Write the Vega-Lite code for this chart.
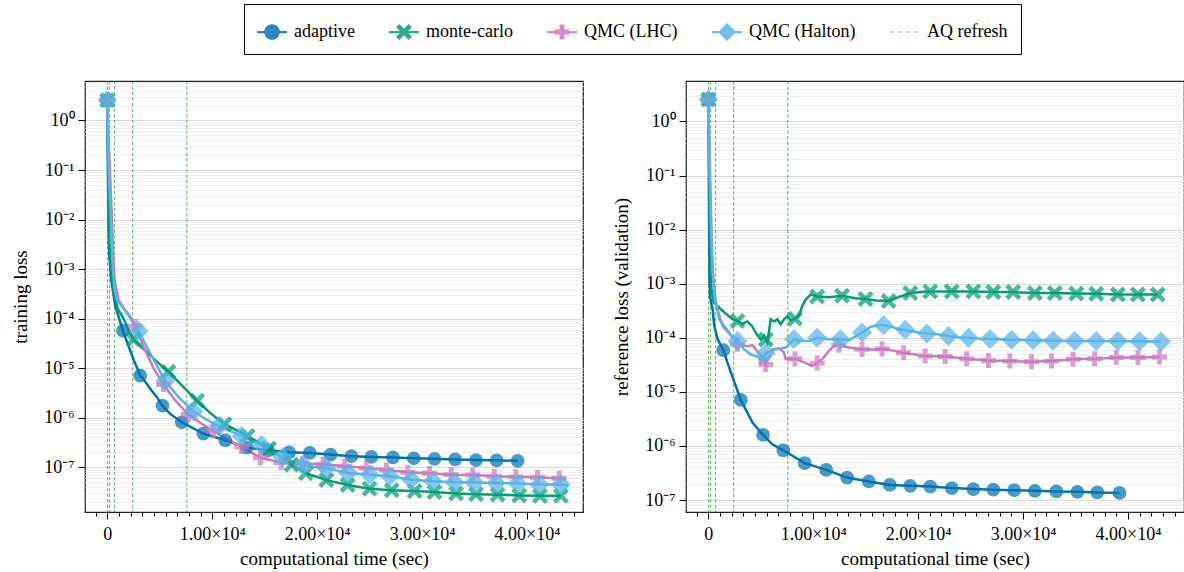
{
"$schema": "https://vega.github.io/schema/vega-lite/v6.json",
"autosize": {"type": "none"},
"padding": {"left": 85, "top": 81, "right": 1099, "bottom": 491},
"background": "white",
"config": {
  "font": "Liberation Serif",
  "view": {"stroke": "#222", "strokeWidth": 1.25},
  "legend": {"labelFont": "Liberation Serif", "titleFont": "Liberation Serif"},
  "axis": {"labelFont": "Liberation Serif", "titleFont": "Liberation Serif", "labelFontSize": 18, "titleFontSize": 19, "labelColor": "#000", "titleColor": "#000", "titleFontWeight": "normal", "tickColor": "#000", "tickWidth": 1, "domain": false}
},
"datasets": {
  "aq": [{"t": 30}, {"t": 225}, {"t": 700}, {"t": 2420}, {"t": 7580}],
  "tr": [
    {"s":"adaptive","t":0,"v":2.55},{"s":"adaptive","t":40,"v":0.3},{"s":"adaptive","t":100,"v":0.01},{"s":"adaptive","t":180,"v":0.002},{"s":"adaptive","t":290,"v":0.001},{"s":"adaptive","t":380,"v":0.0006},{"s":"adaptive","t":760,"v":0.00018},{"s":"adaptive","t":1490,"v":5.7e-5},{"s":"adaptive","t":2500,"v":1.5e-5},{"s":"adaptive","t":3140,"v":7.1e-6},{"s":"adaptive","t":3450,"v":6.0e-6},{"s":"adaptive","t":4200,"v":3.6e-6},{"s":"adaptive","t":4720,"v":2.6e-6},{"s":"adaptive","t":5260,"v":1.75e-6},{"s":"adaptive","t":5990,"v":1.2e-6},{"s":"adaptive","t":7100,"v":8.1e-7},{"s":"adaptive","t":9150,"v":4.8e-7},{"s":"adaptive","t":11250,"v":3.5e-7},{"s":"adaptive","t":13280,"v":2.5e-7},{"s":"adaptive","t":15330,"v":2.2e-7},{"s":"adaptive","t":17330,"v":2.0e-7},{"s":"adaptive","t":19300,"v":1.95e-7},{"s":"adaptive","t":21270,"v":1.8e-7},{"s":"adaptive","t":23260,"v":1.67e-7},{"s":"adaptive","t":25160,"v":1.62e-7},{"s":"adaptive","t":27220,"v":1.58e-7},{"s":"adaptive","t":29210,"v":1.52e-7},{"s":"adaptive","t":31180,"v":1.48e-7},{"s":"adaptive","t":33150,"v":1.44e-7},{"s":"adaptive","t":35140,"v":1.4e-7},{"s":"adaptive","t":37100,"v":1.38e-7},{"s":"adaptive","t":39100,"v":1.35e-7},
    {"s":"monte-carlo","t":0,"v":2.55},{"s":"monte-carlo","t":60,"v":0.3},{"s":"monte-carlo","t":120,"v":0.02},{"s":"monte-carlo","t":220,"v":0.003},{"s":"monte-carlo","t":350,"v":0.001},{"s":"monte-carlo","t":600,"v":0.00035},{"s":"monte-carlo","t":1000,"v":0.00016},{"s":"monte-carlo","t":1550,"v":0.0001},{"s":"monte-carlo","t":2500,"v":3.8e-5},{"s":"monte-carlo","t":3600,"v":2.3e-5},{"s":"monte-carlo","t":4500,"v":1.5e-5},{"s":"monte-carlo","t":5200,"v":1.1e-5},{"s":"monte-carlo","t":5830,"v":8.5e-6},{"s":"monte-carlo","t":7200,"v":4.3e-6},{"s":"monte-carlo","t":8560,"v":2.2e-6},{"s":"monte-carlo","t":9900,"v":1.2e-6},{"s":"monte-carlo","t":11170,"v":7.4e-7},{"s":"monte-carlo","t":13360,"v":4.3e-7},{"s":"monte-carlo","t":15400,"v":2.4e-7},{"s":"monte-carlo","t":17560,"v":1.13e-7},{"s":"monte-carlo","t":18920,"v":7.6e-8},{"s":"monte-carlo","t":20880,"v":5.5e-8},{"s":"monte-carlo","t":22900,"v":4.4e-8},{"s":"monte-carlo","t":25000,"v":3.7e-8},{"s":"monte-carlo","t":27100,"v":3.45e-8},{"s":"monte-carlo","t":29280,"v":3.3e-8},{"s":"monte-carlo","t":31180,"v":3.15e-8},{"s":"monte-carlo","t":33240,"v":2.95e-8},{"s":"monte-carlo","t":35140,"v":2.85e-8},{"s":"monte-carlo","t":37200,"v":2.8e-8},{"s":"monte-carlo","t":39260,"v":2.7e-8},{"s":"monte-carlo","t":41230,"v":2.65e-8},{"s":"monte-carlo","t":43220,"v":2.65e-8},
    {"s":"QMC (LHC)","t":0,"v":2.55},{"s":"QMC (LHC)","t":100,"v":0.5},{"s":"QMC (LHC)","t":250,"v":0.1},{"s":"QMC (LHC)","t":450,"v":0.01},{"s":"QMC (LHC)","t":550,"v":0.002},{"s":"QMC (LHC)","t":700,"v":0.0006},{"s":"QMC (LHC)","t":1075,"v":0.00024},{"s":"QMC (LHC)","t":1700,"v":0.00015},{"s":"QMC (LHC)","t":2200,"v":0.00011},{"s":"QMC (LHC)","t":2660,"v":7.0e-5},{"s":"QMC (LHC)","t":3500,"v":2.6e-5},{"s":"QMC (LHC)","t":4400,"v":1.0e-5},{"s":"QMC (LHC)","t":5350,"v":4.7e-6},{"s":"QMC (LHC)","t":6500,"v":2.2e-6},{"s":"QMC (LHC)","t":7730,"v":1.16e-6},{"s":"QMC (LHC)","t":8900,"v":7.8e-7},{"s":"QMC (LHC)","t":10100,"v":5.4e-7},{"s":"QMC (LHC)","t":11400,"v":3.7e-7},{"s":"QMC (LHC)","t":12800,"v":2.6e-7},{"s":"QMC (LHC)","t":14600,"v":1.55e-7},{"s":"QMC (LHC)","t":16560,"v":1.25e-7},{"s":"QMC (LHC)","t":18600,"v":1.2e-7},{"s":"QMC (LHC)","t":20560,"v":1.15e-7},{"s":"QMC (LHC)","t":22620,"v":1.05e-7},{"s":"QMC (LHC)","t":24690,"v":9.7e-8},{"s":"QMC (LHC)","t":26600,"v":8.8e-8},{"s":"QMC (LHC)","t":28640,"v":7.9e-8},{"s":"QMC (LHC)","t":30700,"v":7.6e-8},{"s":"QMC (LHC)","t":32770,"v":7.1e-8},{"s":"QMC (LHC)","t":34820,"v":7.0e-8},{"s":"QMC (LHC)","t":36880,"v":6.6e-8},{"s":"QMC (LHC)","t":38940,"v":6.4e-8},{"s":"QMC (LHC)","t":41000,"v":6.3e-8},{"s":"QMC (LHC)","t":43060,"v":6.0e-8},{"s":"QMC (LHC)","t":43700,"v":5.7e-8},
    {"s":"QMC (Halton)","t":0,"v":2.55},{"s":"QMC (Halton)","t":80,"v":0.3},{"s":"QMC (Halton)","t":200,"v":0.05},{"s":"QMC (Halton)","t":400,"v":0.005},{"s":"QMC (Halton)","t":540,"v":0.001},{"s":"QMC (Halton)","t":700,"v":0.0004},{"s":"QMC (Halton)","t":920,"v":0.00024},{"s":"QMC (Halton)","t":1870,"v":0.00013},{"s":"QMC (Halton)","t":2980,"v":5.6e-5},{"s":"QMC (Halton)","t":4200,"v":1.8e-5},{"s":"QMC (Halton)","t":5510,"v":5.5e-6},{"s":"QMC (Halton)","t":6800,"v":2.6e-6},{"s":"QMC (Halton)","t":8200,"v":1.35e-6},{"s":"QMC (Halton)","t":9400,"v":9.3e-7},{"s":"QMC (Halton)","t":10650,"v":6.8e-7},{"s":"QMC (Halton)","t":12800,"v":4.3e-7},{"s":"QMC (Halton)","t":14700,"v":2.8e-7},{"s":"QMC (Halton)","t":16700,"v":1.6e-7},{"s":"QMC (Halton)","t":18660,"v":1.08e-7},{"s":"QMC (Halton)","t":20880,"v":9.5e-8},{"s":"QMC (Halton)","t":22940,"v":7.7e-8},{"s":"QMC (Halton)","t":25000,"v":7.1e-8},{"s":"QMC (Halton)","t":26900,"v":6.6e-8},{"s":"QMC (Halton)","t":28960,"v":5.6e-8},{"s":"QMC (Halton)","t":31020,"v":5.2e-8},{"s":"QMC (Halton)","t":33080,"v":5.0e-8},{"s":"QMC (Halton)","t":34980,"v":4.9e-8},{"s":"QMC (Halton)","t":37040,"v":4.8e-8},{"s":"QMC (Halton)","t":39100,"v":4.7e-8},{"s":"QMC (Halton)","t":41160,"v":4.5e-8},{"s":"QMC (Halton)","t":43220,"v":4.5e-8},{"s":"QMC (Halton)","t":43900,"v":4.3e-8}
  ],
  "trm": [
    {"s":"adaptive","t":0,"v":2.55},{"s":"adaptive","t":1490,"v":5.7e-5},{"s":"adaptive","t":3140,"v":7.1e-6},{"s":"adaptive","t":5260,"v":1.75e-6},{"s":"adaptive","t":7100,"v":8.1e-7},{"s":"adaptive","t":9150,"v":4.8e-7},{"s":"adaptive","t":11250,"v":3.5e-7},{"s":"adaptive","t":13280,"v":2.5e-7},{"s":"adaptive","t":15330,"v":2.2e-7},{"s":"adaptive","t":17330,"v":2.0e-7},{"s":"adaptive","t":19300,"v":1.95e-7},{"s":"adaptive","t":21270,"v":1.8e-7},{"s":"adaptive","t":23260,"v":1.67e-7},{"s":"adaptive","t":25160,"v":1.62e-7},{"s":"adaptive","t":27220,"v":1.58e-7},{"s":"adaptive","t":29210,"v":1.52e-7},{"s":"adaptive","t":31180,"v":1.48e-7},{"s":"adaptive","t":33150,"v":1.44e-7},{"s":"adaptive","t":35140,"v":1.4e-7},{"s":"adaptive","t":37100,"v":1.38e-7},{"s":"adaptive","t":39100,"v":1.35e-7},
    {"s":"monte-carlo","t":0,"v":2.55},{"s":"monte-carlo","t":2500,"v":3.8e-5},{"s":"monte-carlo","t":5830,"v":8.5e-6},{"s":"monte-carlo","t":8560,"v":2.2e-6},{"s":"monte-carlo","t":11170,"v":7.4e-7},{"s":"monte-carlo","t":13360,"v":4.3e-7},{"s":"monte-carlo","t":15400,"v":2.4e-7},{"s":"monte-carlo","t":17560,"v":1.13e-7},{"s":"monte-carlo","t":18920,"v":7.6e-8},{"s":"monte-carlo","t":20880,"v":5.5e-8},{"s":"monte-carlo","t":22900,"v":4.4e-8},{"s":"monte-carlo","t":25000,"v":3.7e-8},{"s":"monte-carlo","t":27100,"v":3.45e-8},{"s":"monte-carlo","t":29280,"v":3.3e-8},{"s":"monte-carlo","t":31180,"v":3.15e-8},{"s":"monte-carlo","t":33240,"v":2.95e-8},{"s":"monte-carlo","t":35140,"v":2.85e-8},{"s":"monte-carlo","t":37200,"v":2.8e-8},{"s":"monte-carlo","t":39260,"v":2.7e-8},{"s":"monte-carlo","t":41230,"v":2.65e-8},{"s":"monte-carlo","t":43220,"v":2.65e-8},
    {"s":"QMC (LHC)","t":0,"v":2.55},{"s":"QMC (LHC)","t":2660,"v":7.0e-5},{"s":"QMC (LHC)","t":5350,"v":4.7e-6},{"s":"QMC (LHC)","t":7730,"v":1.16e-6},{"s":"QMC (LHC)","t":10100,"v":5.4e-7},{"s":"QMC (LHC)","t":12800,"v":2.6e-7},{"s":"QMC (LHC)","t":14600,"v":1.55e-7},{"s":"QMC (LHC)","t":16560,"v":1.25e-7},{"s":"QMC (LHC)","t":18600,"v":1.2e-7},{"s":"QMC (LHC)","t":20560,"v":1.15e-7},{"s":"QMC (LHC)","t":22620,"v":1.05e-7},{"s":"QMC (LHC)","t":24690,"v":9.7e-8},{"s":"QMC (LHC)","t":26600,"v":8.8e-8},{"s":"QMC (LHC)","t":28640,"v":7.9e-8},{"s":"QMC (LHC)","t":30700,"v":7.6e-8},{"s":"QMC (LHC)","t":32770,"v":7.1e-8},{"s":"QMC (LHC)","t":34820,"v":7.0e-8},{"s":"QMC (LHC)","t":36880,"v":6.6e-8},{"s":"QMC (LHC)","t":38940,"v":6.4e-8},{"s":"QMC (LHC)","t":41000,"v":6.3e-8},{"s":"QMC (LHC)","t":43060,"v":6.0e-8},
    {"s":"QMC (Halton)","t":0,"v":2.55},{"s":"QMC (Halton)","t":2980,"v":5.6e-5},{"s":"QMC (Halton)","t":5510,"v":5.5e-6},{"s":"QMC (Halton)","t":8200,"v":1.35e-6},{"s":"QMC (Halton)","t":10650,"v":6.8e-7},{"s":"QMC (Halton)","t":12800,"v":4.3e-7},{"s":"QMC (Halton)","t":14700,"v":2.8e-7},{"s":"QMC (Halton)","t":16700,"v":1.6e-7},{"s":"QMC (Halton)","t":18660,"v":1.08e-7},{"s":"QMC (Halton)","t":20880,"v":9.5e-8},{"s":"QMC (Halton)","t":22940,"v":7.7e-8},{"s":"QMC (Halton)","t":25000,"v":7.1e-8},{"s":"QMC (Halton)","t":26900,"v":6.6e-8},{"s":"QMC (Halton)","t":28960,"v":5.6e-8},{"s":"QMC (Halton)","t":31020,"v":5.2e-8},{"s":"QMC (Halton)","t":33080,"v":5.0e-8},{"s":"QMC (Halton)","t":34980,"v":4.9e-8},{"s":"QMC (Halton)","t":37040,"v":4.8e-8},{"s":"QMC (Halton)","t":39100,"v":4.7e-8},{"s":"QMC (Halton)","t":41160,"v":4.5e-8},{"s":"QMC (Halton)","t":43220,"v":4.5e-8}
  ],
  "va": [
    {"s":"adaptive","t":0,"v":2.55},{"s":"adaptive","t":40,"v":0.3},{"s":"adaptive","t":80,"v":0.01},{"s":"adaptive","t":110,"v":0.0015},{"s":"adaptive","t":160,"v":0.0006},{"s":"adaptive","t":300,"v":0.00042},{"s":"adaptive","t":410,"v":0.00034},{"s":"adaptive","t":570,"v":0.000165},{"s":"adaptive","t":880,"v":9.6e-5},{"s":"adaptive","t":1430,"v":5.9e-5},{"s":"adaptive","t":2150,"v":2.3e-5},{"s":"adaptive","t":3100,"v":7.1e-6},{"s":"adaptive","t":4210,"v":2.7e-6},{"s":"adaptive","t":5220,"v":1.6e-6},{"s":"adaptive","t":6110,"v":1.07e-6},{"s":"adaptive","t":7150,"v":8.3e-7},{"s":"adaptive","t":9180,"v":4.8e-7},{"s":"adaptive","t":11240,"v":3.6e-7},{"s":"adaptive","t":13230,"v":2.6e-7},{"s":"adaptive","t":15290,"v":2.2e-7},{"s":"adaptive","t":17300,"v":1.9e-7},{"s":"adaptive","t":19250,"v":1.83e-7},{"s":"adaptive","t":21150,"v":1.77e-7},{"s":"adaptive","t":23200,"v":1.66e-7},{"s":"adaptive","t":25260,"v":1.59e-7},{"s":"adaptive","t":27160,"v":1.55e-7},{"s":"adaptive","t":29150,"v":1.52e-7},{"s":"adaptive","t":31120,"v":1.48e-7},{"s":"adaptive","t":33170,"v":1.44e-7},{"s":"adaptive","t":35170,"v":1.42e-7},{"s":"adaptive","t":37070,"v":1.38e-7},{"s":"adaptive","t":39190,"v":1.35e-7},
    {"s":"monte-carlo","t":0,"v":2.55},{"s":"monte-carlo","t":60,"v":0.3},{"s":"monte-carlo","t":120,"v":0.02},{"s":"monte-carlo","t":200,"v":0.003},{"s":"monte-carlo","t":300,"v":0.0008},{"s":"monte-carlo","t":500,"v":0.00045},{"s":"monte-carlo","t":880,"v":0.00039},{"s":"monte-carlo","t":1160,"v":0.00034},{"s":"monte-carlo","t":2300,"v":0.00022},{"s":"monte-carlo","t":2780,"v":0.000204},{"s":"monte-carlo","t":3260,"v":0.00018},{"s":"monte-carlo","t":3730,"v":0.0002},{"s":"monte-carlo","t":4210,"v":0.00016},{"s":"monte-carlo","t":4690,"v":0.00011},{"s":"monte-carlo","t":5000,"v":9.3e-5},{"s":"monte-carlo","t":5320,"v":0.00011},{"s":"monte-carlo","t":5630,"v":8.1e-5},{"s":"monte-carlo","t":5950,"v":0.00022},{"s":"monte-carlo","t":6270,"v":0.0002},{"s":"monte-carlo","t":6580,"v":0.00022},{"s":"monte-carlo","t":6900,"v":0.000178},{"s":"monte-carlo","t":7220,"v":0.00022},{"s":"monte-carlo","t":7530,"v":0.00025},{"s":"monte-carlo","t":7850,"v":0.00021},{"s":"monte-carlo","t":8260,"v":0.000225},{"s":"monte-carlo","t":8640,"v":0.00025},{"s":"monte-carlo","t":8960,"v":0.00039},{"s":"monte-carlo","t":9280,"v":0.00051},{"s":"monte-carlo","t":9750,"v":0.00063},{"s":"monte-carlo","t":10380,"v":0.00058},{"s":"monte-carlo","t":11500,"v":0.00056},{"s":"monte-carlo","t":12750,"v":0.0006},{"s":"monte-carlo","t":14000,"v":0.00054},{"s":"monte-carlo","t":14980,"v":0.00052},{"s":"monte-carlo","t":16000,"v":0.00049},{"s":"monte-carlo","t":17190,"v":0.00048},{"s":"monte-carlo","t":18300,"v":0.00058},{"s":"monte-carlo","t":19250,"v":0.00067},{"s":"monte-carlo","t":20500,"v":0.00071},{"s":"monte-carlo","t":21150,"v":0.00072},{"s":"monte-carlo","t":23200,"v":0.00072},{"s":"monte-carlo","t":25260,"v":0.00072},{"s":"monte-carlo","t":27160,"v":0.0007},{"s":"monte-carlo","t":29060,"v":0.0007},{"s":"monte-carlo","t":31120,"v":0.00067},{"s":"monte-carlo","t":33020,"v":0.00067},{"s":"monte-carlo","t":35070,"v":0.00066},{"s":"monte-carlo","t":36970,"v":0.00065},{"s":"monte-carlo","t":39030,"v":0.00063},{"s":"monte-carlo","t":40930,"v":0.00063},{"s":"monte-carlo","t":42830,"v":0.00063},
    {"s":"QMC (LHC)","t":0,"v":2.55},{"s":"QMC (LHC)","t":80,"v":0.5},{"s":"QMC (LHC)","t":180,"v":0.08},{"s":"QMC (LHC)","t":300,"v":0.01},{"s":"QMC (LHC)","t":450,"v":0.0015},{"s":"QMC (LHC)","t":650,"v":0.0005},{"s":"QMC (LHC)","t":880,"v":0.00033},{"s":"QMC (LHC)","t":1360,"v":0.000165},{"s":"QMC (LHC)","t":2000,"v":0.00012},{"s":"QMC (LHC)","t":2780,"v":7.6e-5},{"s":"QMC (LHC)","t":3730,"v":7.0e-5},{"s":"QMC (LHC)","t":4210,"v":7.3e-5},{"s":"QMC (LHC)","t":4530,"v":6.1e-5},{"s":"QMC (LHC)","t":5160,"v":4.3e-5},{"s":"QMC (LHC)","t":5480,"v":3.2e-5},{"s":"QMC (LHC)","t":5800,"v":4.5e-5},{"s":"QMC (LHC)","t":6110,"v":6.1e-5},{"s":"QMC (LHC)","t":6740,"v":6.4e-5},{"s":"QMC (LHC)","t":7220,"v":5.3e-5},{"s":"QMC (LHC)","t":7380,"v":4.0e-5},{"s":"QMC (LHC)","t":8260,"v":4.1e-5},{"s":"QMC (LHC)","t":9120,"v":3.5e-5},{"s":"QMC (LHC)","t":9900,"v":3.0e-5},{"s":"QMC (LHC)","t":10380,"v":3.4e-5},{"s":"QMC (LHC)","t":10850,"v":4.0e-5},{"s":"QMC (LHC)","t":11490,"v":5.7e-5},{"s":"QMC (LHC)","t":12130,"v":7.6e-5},{"s":"QMC (LHC)","t":12440,"v":7.3e-5},{"s":"QMC (LHC)","t":13390,"v":6.6e-5},{"s":"QMC (LHC)","t":14650,"v":6.1e-5},{"s":"QMC (LHC)","t":15930,"v":6.1e-5},{"s":"QMC (LHC)","t":16560,"v":6.2e-5},{"s":"QMC (LHC)","t":17190,"v":6.0e-5},{"s":"QMC (LHC)","t":18610,"v":5.3e-5},{"s":"QMC (LHC)","t":20670,"v":4.6e-5},{"s":"QMC (LHC)","t":22570,"v":4.5e-5},{"s":"QMC (LHC)","t":24630,"v":4.1e-5},{"s":"QMC (LHC)","t":26690,"v":3.8e-5},{"s":"QMC (LHC)","t":28740,"v":3.7e-5},{"s":"QMC (LHC)","t":30800,"v":3.6e-5},{"s":"QMC (LHC)","t":32700,"v":3.7e-5},{"s":"QMC (LHC)","t":34760,"v":4.0e-5},{"s":"QMC (LHC)","t":36820,"v":4.1e-5},{"s":"QMC (LHC)","t":38880,"v":4.3e-5},{"s":"QMC (LHC)","t":40940,"v":4.3e-5},{"s":"QMC (LHC)","t":43000,"v":4.4e-5},
    {"s":"QMC (Halton)","t":0,"v":2.55},{"s":"QMC (Halton)","t":70,"v":0.5},{"s":"QMC (Halton)","t":150,"v":0.08},{"s":"QMC (Halton)","t":270,"v":0.01},{"s":"QMC (Halton)","t":420,"v":0.0015},{"s":"QMC (Halton)","t":730,"v":0.00045},{"s":"QMC (Halton)","t":1045,"v":0.00022},{"s":"QMC (Halton)","t":1520,"v":0.000165},{"s":"QMC (Halton)","t":2200,"v":0.00011},{"s":"QMC (Halton)","t":2780,"v":8.7e-5},{"s":"QMC (Halton)","t":3420,"v":6.1e-5},{"s":"QMC (Halton)","t":4060,"v":4.9e-5},{"s":"QMC (Halton)","t":4530,"v":4.6e-5},{"s":"QMC (Halton)","t":4850,"v":4.3e-5},{"s":"QMC (Halton)","t":5000,"v":3.5e-5},{"s":"QMC (Halton)","t":5480,"v":5.2e-5},{"s":"QMC (Halton)","t":6430,"v":6.1e-5},{"s":"QMC (Halton)","t":7380,"v":6.6e-5},{"s":"QMC (Halton)","t":8170,"v":9.4e-5},{"s":"QMC (Halton)","t":8640,"v":8.7e-5},{"s":"QMC (Halton)","t":9590,"v":8.7e-5},{"s":"QMC (Halton)","t":10380,"v":0.0001},{"s":"QMC (Halton)","t":11490,"v":9.4e-5},{"s":"QMC (Halton)","t":12600,"v":9.4e-5},{"s":"QMC (Halton)","t":13390,"v":9.0e-5},{"s":"QMC (Halton)","t":14000,"v":0.000105},{"s":"QMC (Halton)","t":14650,"v":0.000125},{"s":"QMC (Halton)","t":15500,"v":0.00016},{"s":"QMC (Halton)","t":16240,"v":0.00017},{"s":"QMC (Halton)","t":16700,"v":0.00017},{"s":"QMC (Halton)","t":17190,"v":0.000165},{"s":"QMC (Halton)","t":18140,"v":0.000145},{"s":"QMC (Halton)","t":20040,"v":0.000125},{"s":"QMC (Halton)","t":21940,"v":0.000115},{"s":"QMC (Halton)","t":23840,"v":0.000102},{"s":"QMC (Halton)","t":25740,"v":9.7e-5},{"s":"QMC (Halton)","t":27640,"v":9.4e-5},{"s":"QMC (Halton)","t":29530,"v":9.1e-5},{"s":"QMC (Halton)","t":31430,"v":8.9e-5},{"s":"QMC (Halton)","t":33330,"v":8.8e-5},{"s":"QMC (Halton)","t":35230,"v":8.7e-5},{"s":"QMC (Halton)","t":37100,"v":8.7e-5},{"s":"QMC (Halton)","t":39000,"v":8.7e-5},{"s":"QMC (Halton)","t":41000,"v":8.6e-5},{"s":"QMC (Halton)","t":43140,"v":8.5e-5}
  ],
  "vam": [
    {"s":"adaptive","t":0,"v":2.55},{"s":"adaptive","t":1430,"v":5.9e-5},{"s":"adaptive","t":3100,"v":7.1e-6},{"s":"adaptive","t":5220,"v":1.6e-6},{"s":"adaptive","t":7150,"v":8.3e-7},{"s":"adaptive","t":9180,"v":4.8e-7},{"s":"adaptive","t":11240,"v":3.6e-7},{"s":"adaptive","t":13230,"v":2.6e-7},{"s":"adaptive","t":15290,"v":2.2e-7},{"s":"adaptive","t":17300,"v":1.9e-7},{"s":"adaptive","t":19250,"v":1.83e-7},{"s":"adaptive","t":21150,"v":1.77e-7},{"s":"adaptive","t":23200,"v":1.66e-7},{"s":"adaptive","t":25260,"v":1.59e-7},{"s":"adaptive","t":27160,"v":1.55e-7},{"s":"adaptive","t":29150,"v":1.52e-7},{"s":"adaptive","t":31120,"v":1.48e-7},{"s":"adaptive","t":33170,"v":1.44e-7},{"s":"adaptive","t":35170,"v":1.42e-7},{"s":"adaptive","t":37070,"v":1.38e-7},{"s":"adaptive","t":39190,"v":1.35e-7},
    {"s":"monte-carlo","t":0,"v":2.55},{"s":"monte-carlo","t":2780,"v":0.000204},{"s":"monte-carlo","t":5480,"v":9.3e-5},{"s":"monte-carlo","t":8260,"v":0.000225},{"s":"monte-carlo","t":10380,"v":0.00058},{"s":"monte-carlo","t":12750,"v":0.0006},{"s":"monte-carlo","t":14980,"v":0.00052},{"s":"monte-carlo","t":17190,"v":0.00048},{"s":"monte-carlo","t":19250,"v":0.00067},{"s":"monte-carlo","t":21150,"v":0.00072},{"s":"monte-carlo","t":23200,"v":0.00072},{"s":"monte-carlo","t":25260,"v":0.00072},{"s":"monte-carlo","t":27160,"v":0.0007},{"s":"monte-carlo","t":29060,"v":0.0007},{"s":"monte-carlo","t":31120,"v":0.00067},{"s":"monte-carlo","t":33020,"v":0.00067},{"s":"monte-carlo","t":35070,"v":0.00066},{"s":"monte-carlo","t":36970,"v":0.00065},{"s":"monte-carlo","t":39030,"v":0.00063},{"s":"monte-carlo","t":40930,"v":0.00063},{"s":"monte-carlo","t":42830,"v":0.00063},
    {"s":"QMC (LHC)","t":0,"v":2.55},{"s":"QMC (LHC)","t":2780,"v":7.6e-5},{"s":"QMC (LHC)","t":5480,"v":3.2e-5},{"s":"QMC (LHC)","t":8260,"v":4.1e-5},{"s":"QMC (LHC)","t":10380,"v":3.4e-5},{"s":"QMC (LHC)","t":12440,"v":7.3e-5},{"s":"QMC (LHC)","t":14650,"v":6.1e-5},{"s":"QMC (LHC)","t":16560,"v":6.2e-5},{"s":"QMC (LHC)","t":18610,"v":5.3e-5},{"s":"QMC (LHC)","t":20670,"v":4.6e-5},{"s":"QMC (LHC)","t":22570,"v":4.5e-5},{"s":"QMC (LHC)","t":24630,"v":4.1e-5},{"s":"QMC (LHC)","t":26690,"v":3.8e-5},{"s":"QMC (LHC)","t":28740,"v":3.7e-5},{"s":"QMC (LHC)","t":30800,"v":3.6e-5},{"s":"QMC (LHC)","t":32700,"v":3.7e-5},{"s":"QMC (LHC)","t":34760,"v":4.0e-5},{"s":"QMC (LHC)","t":36820,"v":4.1e-5},{"s":"QMC (LHC)","t":38880,"v":4.3e-5},{"s":"QMC (LHC)","t":40940,"v":4.3e-5},{"s":"QMC (LHC)","t":43000,"v":4.4e-5},
    {"s":"QMC (Halton)","t":0,"v":2.55},{"s":"QMC (Halton)","t":2780,"v":8.7e-5},{"s":"QMC (Halton)","t":5480,"v":5.2e-5},{"s":"QMC (Halton)","t":8170,"v":9.4e-5},{"s":"QMC (Halton)","t":10380,"v":0.0001},{"s":"QMC (Halton)","t":12600,"v":9.4e-5},{"s":"QMC (Halton)","t":14650,"v":0.000125},{"s":"QMC (Halton)","t":16700,"v":0.00017},{"s":"QMC (Halton)","t":18770,"v":0.00014},{"s":"QMC (Halton)","t":20830,"v":0.00012},{"s":"QMC (Halton)","t":22890,"v":0.000108},{"s":"QMC (Halton)","t":24790,"v":0.0001},{"s":"QMC (Halton)","t":26850,"v":9.5e-5},{"s":"QMC (Halton)","t":28900,"v":9.2e-5},{"s":"QMC (Halton)","t":30960,"v":9.0e-5},{"s":"QMC (Halton)","t":32860,"v":8.8e-5},{"s":"QMC (Halton)","t":34920,"v":8.7e-5},{"s":"QMC (Halton)","t":36970,"v":8.7e-5},{"s":"QMC (Halton)","t":39030,"v":8.7e-5},{"s":"QMC (Halton)","t":41090,"v":8.6e-5},{"s":"QMC (Halton)","t":43140,"v":8.5e-5}
  ]
},
"spacing": 103,
"bounds": "flush",
"hconcat": [
  {
    "width": 498, "height": 431,
    "layer": [
      {"data": {"name": "aq"}, "mark": {"type": "rule", "color": "#2ca02c", "opacity": 0.75, "strokeWidth": 1, "strokeDash": [3.5, 2]},
       "encoding": {"x": {"field": "t", "type": "quantitative", "scale": {"domain": [-2124, 45333], "nice": false, "zero": false}}}},
      {"data": {"name": "tr"}, "mark": {"type": "line", "strokeWidth": 2.5},
       "encoding": {
         "x": {"field": "t", "type": "quantitative", "scale": {"domain": [-2124, 45333], "nice": false, "zero": false},
               "axis": {"title": "computational time (sec)", "grid": false, "tickCount": 500, "values": [-1111.1,0,1111.1,2222.2,3333.3,4444.4,5555.6,6666.7,7777.8,8888.9,10000,11111.1,12222.2,13333.3,14444.4,15555.6,16666.7,17777.8,18888.9,20000,21111.1,22222.2,23333.3,24444.4,25555.6,26666.7,27777.8,28888.9,30000,31111.1,32222.2,33333.3,34444.4,35555.6,36666.7,37777.8,38888.9,40000,41111.1,42222.2,43333.3,44444.4],
                        "labelExpr": "datum.value % 10000 === 0 ? (datum.value === 0 ? '0' : format(datum.value / 10000, '.2f') + '×10⁴') : ''",
                        "tickSize": {"condition": {"test": "datum.value % 10000 === 0", "value": 7}, "value": 4},
                        "labelPadding": 6, "labelOverlap": false, "labelFlush": false, "titleY": 46, "titleBaseline": "middle"}},
         "y": {"field": "v", "type": "quantitative", "scale": {"type": "log", "domain": [1.25e-8, 6.27], "nice": false},
               "axis": {"title": "training loss", "grid": true, "tickCount": 500,
                        "values": [2e-8,3e-8,4e-8,5e-8,6e-8,7e-8,8e-8,9e-8,1e-7,2e-7,3e-7,4e-7,5e-7,6e-7,7e-7,8e-7,9e-7,1e-6,2e-6,3e-6,4e-6,5e-6,6e-6,7e-6,8e-6,9e-6,1e-5,2e-5,3e-5,4e-5,5e-5,6e-5,7e-5,8e-5,9e-5,1e-4,2e-4,3e-4,4e-4,5e-4,6e-4,7e-4,8e-4,9e-4,1e-3,2e-3,3e-3,4e-3,5e-3,6e-3,7e-3,8e-3,9e-3,1e-2,2e-2,3e-2,4e-2,5e-2,6e-2,7e-2,8e-2,9e-2,0.1,0.2,0.3,0.4,0.5,0.6,0.7,0.8,0.9,1,2,3,4,5,6],
                        "labelExpr": "abs(log(datum.value)/LN10 - round(log(datum.value)/LN10)) < 0.001 ? '10' + ['⁰','⁻¹','⁻²','⁻³','⁻⁴','⁻⁵','⁻⁶','⁻⁷','⁻⁸'][-round(log(datum.value)/LN10)] : ''",
                        "tickOpacity": {"condition": {"test": "abs(log(datum.value)/LN10 - round(log(datum.value)/LN10)) < 0.001", "value": 1}, "value": 0},
                        "gridColor": {"condition": {"test": "abs(log(datum.value)/LN10 - round(log(datum.value)/LN10)) < 0.001", "value": "#d9d9d9"}, "value": "#efefef"},
                        "tickSize": 7, "labelPadding": 4, "labelOverlap": false, "labelFlush": false, "titleX": -65, "titleY": 215.5, "titleBaseline": "middle"}},
         "stroke": {"field": "s", "type": "nominal", "scale": {"domain": ["adaptive","monte-carlo","QMC (LHC)","QMC (Halton)"], "range": ["#0173b2","#029e73","#cc78bc","#56b4e9"]}, "legend": null}
       }},
      {"data": {"name": "trm"}, "transform": [{"filter": "datum.s === 'adaptive'"}], "mark": {"type": "point", "shape": "circle", "filled": true, "size": 189, "opacity": 0.72, "color": "#0173b2", "strokeWidth": 0},
       "encoding": {"x": {"field": "t", "type": "quantitative", "scale": {"domain": [-2124, 45333], "nice": false, "zero": false}}, "y": {"field": "v", "type": "quantitative", "scale": {"type": "log", "domain": [1.25e-8, 6.27], "nice": false}}}},
      {"data": {"name": "trm"}, "transform": [{"filter": "datum.s === 'monte-carlo'"}], "mark": {"type": "point", "shape": "M-1,-0.6L-0.6,-1L0,-0.4L0.6,-1L1,-0.6L0.4,0L1,0.6L0.6,1L0,0.4L-0.6,1L-1,0.6L-0.4,0Z", "filled": true, "size": 256, "opacity": 0.72, "color": "#029e73", "strokeWidth": 0},
       "encoding": {"x": {"field": "t", "type": "quantitative", "scale": {"domain": [-2124, 45333], "nice": false, "zero": false}}, "y": {"field": "v", "type": "quantitative", "scale": {"type": "log", "domain": [1.25e-8, 6.27], "nice": false}}}},
      {"data": {"name": "trm"}, "transform": [{"filter": "datum.s === 'QMC (LHC)'"}], "mark": {"type": "point", "shape": "M-0.33,-1H0.33V-0.33H1V0.33H0.33V1H-0.33V0.33H-1V-0.33H-0.33Z", "filled": true, "size": 225, "opacity": 0.72, "color": "#cc78bc", "strokeWidth": 0},
       "encoding": {"x": {"field": "t", "type": "quantitative", "scale": {"domain": [-2124, 45333], "nice": false, "zero": false}}, "y": {"field": "v", "type": "quantitative", "scale": {"type": "log", "domain": [1.25e-8, 6.27], "nice": false}}}},
      {"data": {"name": "trm"}, "transform": [{"filter": "datum.s === 'QMC (Halton)'"}], "mark": {"type": "point", "shape": "diamond", "filled": true, "size": 400, "opacity": 0.72, "color": "#56b4e9", "strokeWidth": 0},
       "encoding": {"x": {"field": "t", "type": "quantitative", "scale": {"domain": [-2124, 45333], "nice": false, "zero": false}}, "y": {"field": "v", "type": "quantitative", "scale": {"type": "log", "domain": [1.25e-8, 6.27], "nice": false}}}},
      {"data": {"name": "aq"}, "transform": [{"filter": "false"}], "mark": {"type": "point", "filled": true},
       "encoding": {
         "color": {"field": "s", "type": "nominal", "scale": {"domain": ["adaptive","monte-carlo","QMC (LHC)","QMC (Halton)","AQ refresh"], "range": ["#0173b2","#029e73","#cc78bc","#56b4e9","#6bbc6b"]},
                   "legend": {"title": null, "orient": "none", "legendX": 159, "legendY": -77, "direction": "horizontal", "symbolSize": 900, "symbolStrokeWidth": 0, "symbolOpacity": 0.85, "labelFont": "Liberation Serif", "labelFontSize": 18, "labelColor": "#000", "labelOffset": 7, "columnPadding": 34, "padding": 13, "strokeColor": "#000", "fillColor": "#fff", "cornerRadius": 0, "labelLimit": 0}},
         "shape": {"field": "s", "type": "nominal", "scale": {"domain": ["adaptive","monte-carlo","QMC (LHC)","QMC (Halton)","AQ refresh"], "range": [
             "M-1,-0.075H1V0.075H-1Z M-0.52,0A0.52,0.52 0 1,1 0.52,0A0.52,0.52 0 1,1 -0.52,0Z",
             "M-1,-0.075H1V0.075H-1Z M-0.53,-0.318L-0.318,-0.53L0,-0.212L0.318,-0.53L0.53,-0.318L0.212,0L0.53,0.318L0.318,0.53L0,0.212L-0.318,0.53L-0.53,0.318L-0.212,0Z",
             "M-1,-0.075H1V0.075H-1Z M-0.165,-0.5H0.165V-0.165H0.5V0.165H0.165V0.5H-0.165V0.165H-0.5V-0.165H-0.165Z",
             "M-1,-0.075H1V0.075H-1Z M-0.6,0L0,-0.6L0.6,0L0,0.6Z",
             "M-1,-0.035H-0.72V0.035H-1Z M-0.48,-0.035H-0.2V0.035H-0.48Z M0.04,-0.035H0.32V0.035H0.04Z M0.56,-0.035H0.84V0.035H0.56Z"]},
                   "legend": {"title": null, "orient": "none", "legendX": 159, "legendY": -77, "direction": "horizontal", "symbolSize": 900, "symbolStrokeWidth": 0, "symbolOpacity": 0.85, "labelFont": "Liberation Serif", "labelFontSize": 18, "labelColor": "#000", "labelOffset": 7, "columnPadding": 34, "padding": 13, "strokeColor": "#000", "fillColor": "#fff", "cornerRadius": 0, "labelLimit": 0}}
       }}
    ]
  },
  {
    "width": 498, "height": 431,
    "layer": [
      {"data": {"name": "aq"}, "mark": {"type": "rule", "color": "#2ca02c", "opacity": 0.75, "strokeWidth": 1, "strokeDash": [3.5, 2]},
       "encoding": {"x": {"field": "t", "type": "quantitative", "scale": {"domain": [-2124, 45333], "nice": false, "zero": false}}}},
      {"data": {"name": "va"}, "mark": {"type": "line", "strokeWidth": 2.5},
       "encoding": {
         "x": {"field": "t", "type": "quantitative", "scale": {"domain": [-2124, 45333], "nice": false, "zero": false},
               "axis": {"title": "computational time (sec)", "grid": false, "tickCount": 500, "values": [-1111.1,0,1111.1,2222.2,3333.3,4444.4,5555.6,6666.7,7777.8,8888.9,10000,11111.1,12222.2,13333.3,14444.4,15555.6,16666.7,17777.8,18888.9,20000,21111.1,22222.2,23333.3,24444.4,25555.6,26666.7,27777.8,28888.9,30000,31111.1,32222.2,33333.3,34444.4,35555.6,36666.7,37777.8,38888.9,40000,41111.1,42222.2,43333.3,44444.4],
                        "labelExpr": "datum.value % 10000 === 0 ? (datum.value === 0 ? '0' : format(datum.value / 10000, '.2f') + '×10⁴') : ''",
                        "tickSize": {"condition": {"test": "datum.value % 10000 === 0", "value": 7}, "value": 4},
                        "labelPadding": 6, "labelOverlap": false, "labelFlush": false, "titleY": 46, "titleBaseline": "middle"}},
         "y": {"field": "v", "type": "quantitative", "scale": {"type": "log", "domain": [6.0e-8, 5.6], "nice": false},
               "axis": {"title": "reference loss (validation)", "grid": true, "tickCount": 500,
                        "values": [7e-8,8e-8,9e-8,1e-7,2e-7,3e-7,4e-7,5e-7,6e-7,7e-7,8e-7,9e-7,1e-6,2e-6,3e-6,4e-6,5e-6,6e-6,7e-6,8e-6,9e-6,1e-5,2e-5,3e-5,4e-5,5e-5,6e-5,7e-5,8e-5,9e-5,1e-4,2e-4,3e-4,4e-4,5e-4,6e-4,7e-4,8e-4,9e-4,1e-3,2e-3,3e-3,4e-3,5e-3,6e-3,7e-3,8e-3,9e-3,1e-2,2e-2,3e-2,4e-2,5e-2,6e-2,7e-2,8e-2,9e-2,0.1,0.2,0.3,0.4,0.5,0.6,0.7,0.8,0.9,1,2,3,4,5],
                        "labelExpr": "abs(log(datum.value)/LN10 - round(log(datum.value)/LN10)) < 0.001 ? '10' + ['⁰','⁻¹','⁻²','⁻³','⁻⁴','⁻⁵','⁻⁶','⁻⁷','⁻⁸'][-round(log(datum.value)/LN10)] : ''",
                        "tickOpacity": {"condition": {"test": "abs(log(datum.value)/LN10 - round(log(datum.value)/LN10)) < 0.001", "value": 1}, "value": 0},
                        "gridColor": {"condition": {"test": "abs(log(datum.value)/LN10 - round(log(datum.value)/LN10)) < 0.001", "value": "#d9d9d9"}, "value": "#efefef"},
                        "tickSize": 7, "labelPadding": 4, "labelOverlap": false, "labelFlush": false, "titleX": -65, "titleY": 215.5, "titleBaseline": "middle"}},
         "stroke": {"field": "s", "type": "nominal", "scale": {"domain": ["adaptive","monte-carlo","QMC (LHC)","QMC (Halton)"], "range": ["#0173b2","#029e73","#cc78bc","#56b4e9"]}, "legend": null}
       }},
      {"data": {"name": "vam"}, "transform": [{"filter": "datum.s === 'adaptive'"}], "mark": {"type": "point", "shape": "circle", "filled": true, "size": 189, "opacity": 0.72, "color": "#0173b2", "strokeWidth": 0},
       "encoding": {"x": {"field": "t", "type": "quantitative", "scale": {"domain": [-2124, 45333], "nice": false, "zero": false}}, "y": {"field": "v", "type": "quantitative", "scale": {"type": "log", "domain": [6.0e-8, 5.6], "nice": false}}}},
      {"data": {"name": "vam"}, "transform": [{"filter": "datum.s === 'monte-carlo'"}], "mark": {"type": "point", "shape": "M-1,-0.6L-0.6,-1L0,-0.4L0.6,-1L1,-0.6L0.4,0L1,0.6L0.6,1L0,0.4L-0.6,1L-1,0.6L-0.4,0Z", "filled": true, "size": 256, "opacity": 0.72, "color": "#029e73", "strokeWidth": 0},
       "encoding": {"x": {"field": "t", "type": "quantitative", "scale": {"domain": [-2124, 45333], "nice": false, "zero": false}}, "y": {"field": "v", "type": "quantitative", "scale": {"type": "log", "domain": [6.0e-8, 5.6], "nice": false}}}},
      {"data": {"name": "vam"}, "transform": [{"filter": "datum.s === 'QMC (LHC)'"}], "mark": {"type": "point", "shape": "M-0.33,-1H0.33V-0.33H1V0.33H0.33V1H-0.33V0.33H-1V-0.33H-0.33Z", "filled": true, "size": 225, "opacity": 0.72, "color": "#cc78bc", "strokeWidth": 0},
       "encoding": {"x": {"field": "t", "type": "quantitative", "scale": {"domain": [-2124, 45333], "nice": false, "zero": false}}, "y": {"field": "v", "type": "quantitative", "scale": {"type": "log", "domain": [6.0e-8, 5.6], "nice": false}}}},
      {"data": {"name": "vam"}, "transform": [{"filter": "datum.s === 'QMC (Halton)'"}], "mark": {"type": "point", "shape": "diamond", "filled": true, "size": 400, "opacity": 0.72, "color": "#56b4e9", "strokeWidth": 0},
       "encoding": {"x": {"field": "t", "type": "quantitative", "scale": {"domain": [-2124, 45333], "nice": false, "zero": false}}, "y": {"field": "v", "type": "quantitative", "scale": {"type": "log", "domain": [6.0e-8, 5.6], "nice": false}}}}
    ]
  }
]
}
